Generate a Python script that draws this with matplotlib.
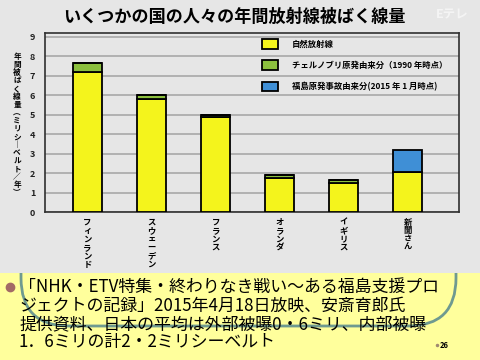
import numpy as np
import matplotlib
matplotlib.use('Agg')
from matplotlib import pyplot as plt
from matplotlib.patches import Patch, FancyBboxPatch, Rectangle

plt.rcParams['font.family'] = ['Noto Sans CJK JP', 'DejaVu Sans']

# data
countries = ['フィンランド', 'スウェーデン', 'フランス', 'オランダ', 'イギリス', '新聞さん']
natural = [7.2, 5.8, 4.85, 1.75, 1.5, 2.05]
chernobyl = [0.45, 0.2, 0.15, 0.15, 0.12, 0.0]
fukushima = [0.0, 0.0, 0.0, 0.0, 0.0, 1.15]
yticks = list(range(10))

legend_labels = ['自然放射線', 'チェルノブリ原発由来分（1990 年時点）', '福島原発事故由来分(2015 年 1 月時点)']
title = 'いくつかの国の人々の年間放射線被ばく線量'
ylabel = '年間被ばく線量︵ミリシ｜ベルト／年︶'
caption = ['「NHK・ETV特集・終わりなき戦い～ある福島支援プロ',
           'ジェクトの記録」2015年4月18日放映、安斎育郎氏',
           '提供資料、日本の平均は外部被曝0・6ミリ、内部被曝',
           '1．6ミリの計2・2ミリシーベルト']

W, H = 480, 360
fig = plt.figure(figsize=(4.8, 3.6), dpi=100)
fig.patch.set_facecolor('#e6e6e6')

def fx(px):
    return px / W

def fy(py):
    return 1 - py / H

# yellow band at the bottom of the slide
band_top = 273
bg = fig.add_axes([0, 0, 1, (H - band_top) / H])
bg.set_xlim(0, W)
bg.set_ylim(H, band_top)
bg.axis('off')
bg.add_patch(Rectangle((0, band_top), W, H - band_top, facecolor='#ffff9c', edgecolor='none'))
bg.add_patch(FancyBboxPatch((21, 180), 435, 146, boxstyle='round,pad=0,rounding_size=48',
                            facecolor='none', edgecolor='#6f9a90', lw=2.0))
bg.plot([10], [287], 'o', color='#a26a66', ms=6)
line_y = [287, 306, 324, 342]
for t, yy in zip(caption, line_y):
    bg.text(19, yy, t, fontsize=12.2, va='center', ha='left', color='black')
bg.plot([437], [345], 'o', color='#a08a70', ms=1.5)
bg.text(440, 345, '26', fontsize=5.5, fontweight='bold', va='center', ha='left')

# chart
ax = fig.add_axes([fx(45), fy(212), fx(459) - fx(45), (212 - 33) / H])
ax.set_facecolor('#e6e6e6')
x = np.arange(len(countries))
w = 0.46
edge = dict(edgecolor='black', linewidth=1.3, zorder=3)
ax.bar(x, natural, w, color='#f4f41c', label=legend_labels[0], **edge)
ax.bar(x, chernobyl, w, bottom=natural, color='#8cc03e', label=legend_labels[1], **edge)
bot2 = np.array(natural) + np.array(chernobyl)
ax.bar(x, fukushima, w, bottom=bot2, color='#3f8fd6', label=legend_labels[2], **edge)

ax.set_xlim(-0.664, 5.80)
ax.set_ylim(0, 9.18)
ax.set_yticks(yticks)
ax.set_yticklabels([str(v) for v in yticks], fontsize=6.5, fontweight='bold', color='#222222')
ax.tick_params(axis='y', length=0, pad=7)
ax.set_xticks([])
ax.grid(axis='y', color='#a8a8a8', lw=1.2, zorder=0)
for s in ax.spines.values():
    s.set_color('#303030')
    s.set_linewidth(1.2)

for i, name in enumerate(countries):
    ax.annotate('\n'.join(name), xy=(i, 0), xytext=(0, -4), textcoords='offset points',
                ha='center', va='top', fontsize=6, fontweight='bold', linespacing=0.92)

handles = [Patch(facecolor='#f4f41c', edgecolor='black', lw=1.3),
           Patch(facecolor='#8cc03e', edgecolor='black', lw=1.3),
           Patch(facecolor='#3f8fd6', edgecolor='black', lw=1.3)]
ax.legend(handles, legend_labels, loc='upper left', bbox_to_anchor=(fx(262), fy(39)),
          bbox_transform=fig.transFigure, frameon=False,
          prop={'weight': 'bold', 'size': 6}, handlelength=1.9, handleheight=1.4,
          labelspacing=1.4, handletextpad=1.7, borderpad=0, borderaxespad=0)

fig.text(fx(17), fy(52), '\n'.join(ylabel), ha='center', va='top', fontsize=5.5,
         fontweight='bold', linespacing=0.86)
fig.text(fx(234), fy(17), title, ha='center', va='center', fontsize=12.3, fontweight='bold')
fig.text(fx(452), fy(15), 'Eテレ', ha='center', va='center', fontsize=9, fontweight='bold',
         color='white', alpha=0.6)

fig.savefig('out.png', dpi=100, facecolor=fig.get_facecolor())
